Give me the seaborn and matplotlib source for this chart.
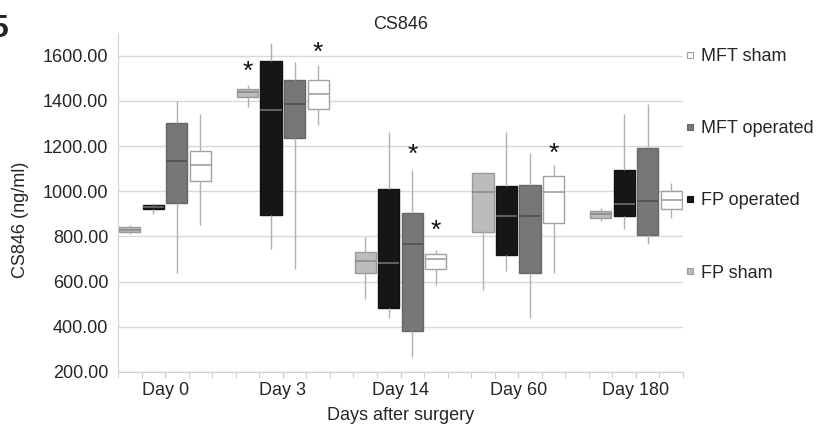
import numpy as np
import pandas as pd
import seaborn as sns
import matplotlib.pyplot as plt
from matplotlib.lines import Line2D
from matplotlib.ticker import FormatStrFormatter

days = ["Day 0", "Day 3", "Day 14", "Day 60", "Day 180"]
groups = ["FP sham", "FP operated", "MFT operated", "MFT sham"]

# per day: whisker low, q1, median, q3, whisker high
fp_sham = [[812, 820, 830, 842, 849], [1372, 1416, 1441, 1453, 1471],
           [522, 638, 693, 731, 797], [562, 821, 995, 1080, 1083],
           [868, 883, 899, 914, 926]]
fp_operated = [[901, 920, 930, 941, 948], [743, 896, 1361, 1577, 1656],
               [438, 481, 684, 1009, 1264], [647, 717, 889, 1023, 1261],
               [834, 889, 945, 1095, 1342]]
mft_operated = [[636, 948, 1132, 1304, 1397], [655, 1236, 1384, 1490, 1570],
                [265, 380, 768, 905, 1095], [437, 638, 889, 1026, 1169],
                [768, 808, 955, 1191, 1384]]
mft_sham = [[852, 1043, 1114, 1176, 1342], [1295, 1363, 1429, 1494, 1559],
            [587, 656, 698, 722, 742], [638, 861, 995, 1067, 1114],
            [881, 923, 963, 1001, 1038]]

# significance stars
star_day = ["Day 3", "Day 3", "Day 14", "Day 14", "Day 60"]
star_group = ["FP sham", "MFT sham", "MFT operated", "MFT sham", "MFT sham"]
star_level = [1530, 1610, 1160, 825, 1165]

legend_order = ["MFT sham", "MFT operated", "FP operated", "FP sham"]

fill = {"FP sham": "#bcbcbc", "FP operated": "#161616",
        "MFT operated": "#777777", "MFT sham": "#ffffff"}
edge = {"FP sham": "#9a9a9a", "FP operated": "#111111",
        "MFT operated": "#666666", "MFT sham": "#a0a0a0"}
med = {"FP sham": "#8a8a8a", "FP operated": "#707070",
       "MFT operated": "#505050", "MFT sham": "#a0a0a0"}

rows = []
for g, summ in zip(groups, [fp_sham, fp_operated, mft_operated, mft_sham]):
    for d, vals in zip(days, summ):
        for v in vals:
            rows.append((d, g, v))
df = pd.DataFrame(rows, columns=["day", "group", "value"])

sns.set_style("white")
plt.rcParams["font.family"] = ["Liberation Sans", "DejaVu Sans"]
plt.rcParams["font.size"] = 13

fig = plt.figure(figsize=(8.18, 4.26), dpi=100)
ax = fig.add_axes([0.1443, 0.1268, 0.6907, 0.7957])

for g in groups:
    sns.boxplot(data=df[df["group"] == g], x="day", y="value", hue="group",
                order=days, hue_order=groups, palette=fill, dodge=True,
                width=0.8, gap=0.1, whis=(0, 100), showcaps=False,
                linecolor=edge[g], linewidth=1,
                medianprops=dict(color=med[g], linewidth=1.2),
                whiskerprops=dict(color="#b0b0b0", linewidth=1),
                legend=False, ax=ax)

# stars above selected boxes
offs = dict(zip(groups, [-0.3, -0.1, 0.1, 0.3]))
for d, g, lv in zip(star_day, star_group, star_level):
    ax.text(days.index(d) + offs[g], lv, "*", ha="center", va="center",
            fontsize=19, color="#111111")

ax.set_xlim(-0.4, 4.4)
ax.set_ylim(200, 1700)
ax.set_yticks(np.arange(200, 1601, 200))
ax.yaxis.set_major_formatter(FormatStrFormatter("%.2f"))
ax.set_xticks(range(len(days)), days)
ax.set_xticks(np.arange(-0.4, 4.41, 0.2), minor=True)
ax.tick_params(axis="x", which="both", length=4, color="#c8c8c8", pad=3, bottom=True)
ax.tick_params(axis="y", length=0, pad=7)
ax.yaxis.grid(True, color="#d9d9d9", linewidth=1)
ax.set_axisbelow(True)
for s in ["top", "right"]:
    ax.spines[s].set_visible(False)
for s in ["left", "bottom"]:
    ax.spines[s].set_color("#d0d0d0")

ax.set_xlabel("Days after surgery", labelpad=6)
ax.set_ylabel("CS846 (ng/ml)", labelpad=9)
ax.yaxis.set_label_coords(-0.158, 0.45)
ax.set_title("CS846", pad=2, fontsize=13)

handles = [Line2D([], [], linestyle="none", marker="s", markersize=4.5,
                  markerfacecolor=fill[g], markeredgecolor=edge[g],
                  markeredgewidth=0.8) for g in legend_order]
ax.legend(handles, legend_order, loc="upper left", bbox_to_anchor=(1.003, 0.956),
          frameon=False, borderpad=0, borderaxespad=0, handlelength=0.6,
          handletextpad=0.3, labelspacing=3.06, fontsize=13)

fig.text(8 / 818, 1 - 37 / 426, "5", ha="right", va="baseline",
         fontsize=23, fontweight="bold")

fig.savefig("out.png", dpi=100)
